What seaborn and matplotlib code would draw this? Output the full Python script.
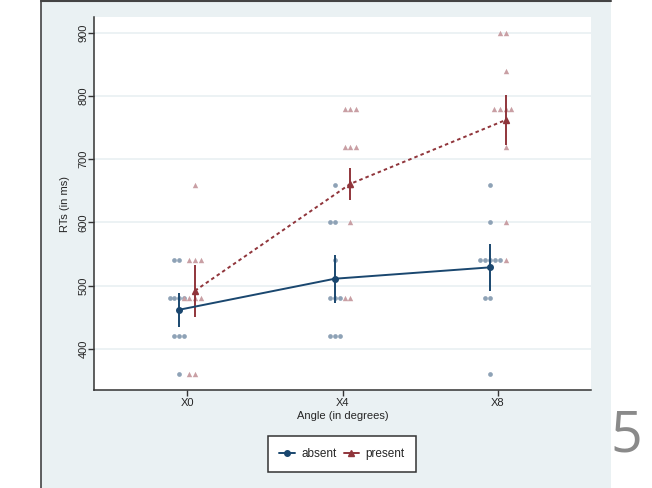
import numpy as np
import pandas as pd
import matplotlib
matplotlib.use("Agg")
import matplotlib.pyplot as plt
import seaborn as sns
from matplotlib.patches import Rectangle
from matplotlib.lines import Line2D

# ---------------- data ----------------
angles = ["X0", "X4", "X8"]
conditions = ["absent", "present"]

# binned RTs shown as stacked points
absent_x0 = [540, 540, 480, 480, 480, 480, 420, 420, 420, 360]
absent_x4 = [660, 600, 600, 540, 480, 480, 480, 420, 420, 420]
absent_x8 = [660, 600, 540, 540, 540, 540, 540, 480, 480, 360]
present_x0 = [660, 540, 540, 540, 480, 480, 480, 480, 360, 360]
present_x4 = [780, 780, 780, 720, 720, 720, 660, 600, 480, 480]
present_x8 = [900, 900, 840, 780, 780, 780, 780, 720, 600, 540]

# condition means and error-bar half widths
means_absent = [462, 511, 529]
err_absent = [27, 38, 37]
means_present = [492, 661, 762]
err_present = [41, 25, 40]

y_ticks = [400, 500, 600, 700, 800, 900]

# ---------------- style ----------------
BG = "#eaf1f3"
NAVY = "#1a476f"
MAROON = "#90353b"
NAVY_LT = "#8ea2b6"
MAROON_LT = "#c99fa4"

sns.set_style("white")
plt.rcParams["font.family"] = ["Liberation Sans", "DejaVu Sans"]

W, H = 652, 488
fig = plt.figure(figsize=(W / 100, H / 100), dpi=100)
fig.patch.set_facecolor("white")
bg = Rectangle((41 / W, 0), (611 - 41) / W, 1, transform=fig.transFigure,
               facecolor=BG, edgecolor="none", zorder=-10)
fig.add_artist(bg)
fig.add_artist(Line2D([41.5 / W, 41.5 / W], [0, 1], color="#444444", lw=1.2,
                      transform=fig.transFigure, zorder=-5))
fig.add_artist(Line2D([41.5 / W, 611 / W], [1 - 1 / H, 1 - 1 / H], color="#444444", lw=1.5,
                      transform=fig.transFigure, zorder=-5))

ax = fig.add_axes([94 / W, 1 - 390 / H, (591 - 94) / W, (390 - 17) / H])
ax.set_facecolor("white")

# long table
rows = []
for cond, lists in zip(conditions, [[absent_x0, absent_x4, absent_x8],
                                    [present_x0, present_x4, present_x8]]):
    for i, vals in enumerate(lists):
        for v in vals:
            rows.append({"angle": i, "cond": cond, "rt": v})
df = pd.DataFrame(rows)

off = 0.05
offsets = {"absent": -off, "present": off}
markers = {"absent": "o", "present": "^"}
light = {"absent": NAVY_LT, "present": MAROON_LT}
sizes = {"absent": 3.4, "present": 3.9}

for cond in conditions:
    d = df[df["cond"] == cond].copy()
    d["pos"] = d["angle"] + offsets[cond]
    sns.swarmplot(data=d, x="pos", y="rt", native_scale=True, orient="x",
                  color=light[cond], marker=markers[cond], size=sizes[cond],
                  linewidth=0, ax=ax, zorder=3)

xs = np.arange(len(angles))
ax.errorbar(xs - off, means_absent, yerr=err_absent, color=NAVY, marker="o", ms=4,
            lw=1.4, elinewidth=1.4, capsize=0, zorder=5)
ax.errorbar(xs + off, means_present, yerr=err_present, color=MAROON, marker="^", ms=5,
            lw=1.4, elinewidth=1.4, capsize=0, ls=(0, (1.8, 1.6)), zorder=5)

ax.set_xlim(-0.6, 2.6)
ax.set_ylim(335, 925)
ax.set_xticks(xs)
ax.set_xticklabels(angles, fontsize=8)
ax.set_yticks(y_ticks)
ax.set_yticklabels([str(t) for t in y_ticks], fontsize=8, rotation=90, va="center")
ax.yaxis.grid(True, color="#eaf1f3", lw=1.3)
ax.set_axisbelow(True)
for s in ["top", "right"]:
    ax.spines[s].set_visible(False)
for s in ["left", "bottom"]:
    ax.spines[s].set_color("#333333")
    ax.spines[s].set_linewidth(1.1)
ax.tick_params(axis="both", direction="out", length=4, width=1, color="#333333",
               bottom=True, left=True)
ax.tick_params(axis="x", pad=2)
ax.tick_params(axis="y", pad=0)
ax.set_xlabel("Angle (in degrees)", fontsize=8, labelpad=2)
ax.set_ylabel("RTs (in ms)", fontsize=8, labelpad=6)

handles = [Line2D([], [], color=NAVY, marker="o", ms=4, lw=1.4),
           Line2D([], [], color=MAROON, marker="^", ms=5, lw=1.4)]
leg = fig.legend(handles, conditions, loc="center", bbox_to_anchor=(342 / W, 1 - 454 / H),
                 ncol=2, frameon=True, fancybox=False, framealpha=1, edgecolor="#333333",
                 fontsize=8.5, handlelength=1.3, handletextpad=0.55, columnspacing=0.6,
                 borderpad=1.0, borderaxespad=0)
leg.get_frame().set_linewidth(1.1)

fig.text(626 / W, 1 - 437 / H, "5", fontsize=40, color="#8a8a8a", ha="center", va="center",
         family=["Open Sans", "DejaVu Sans"])

fig.savefig("out.png", dpi=100)
